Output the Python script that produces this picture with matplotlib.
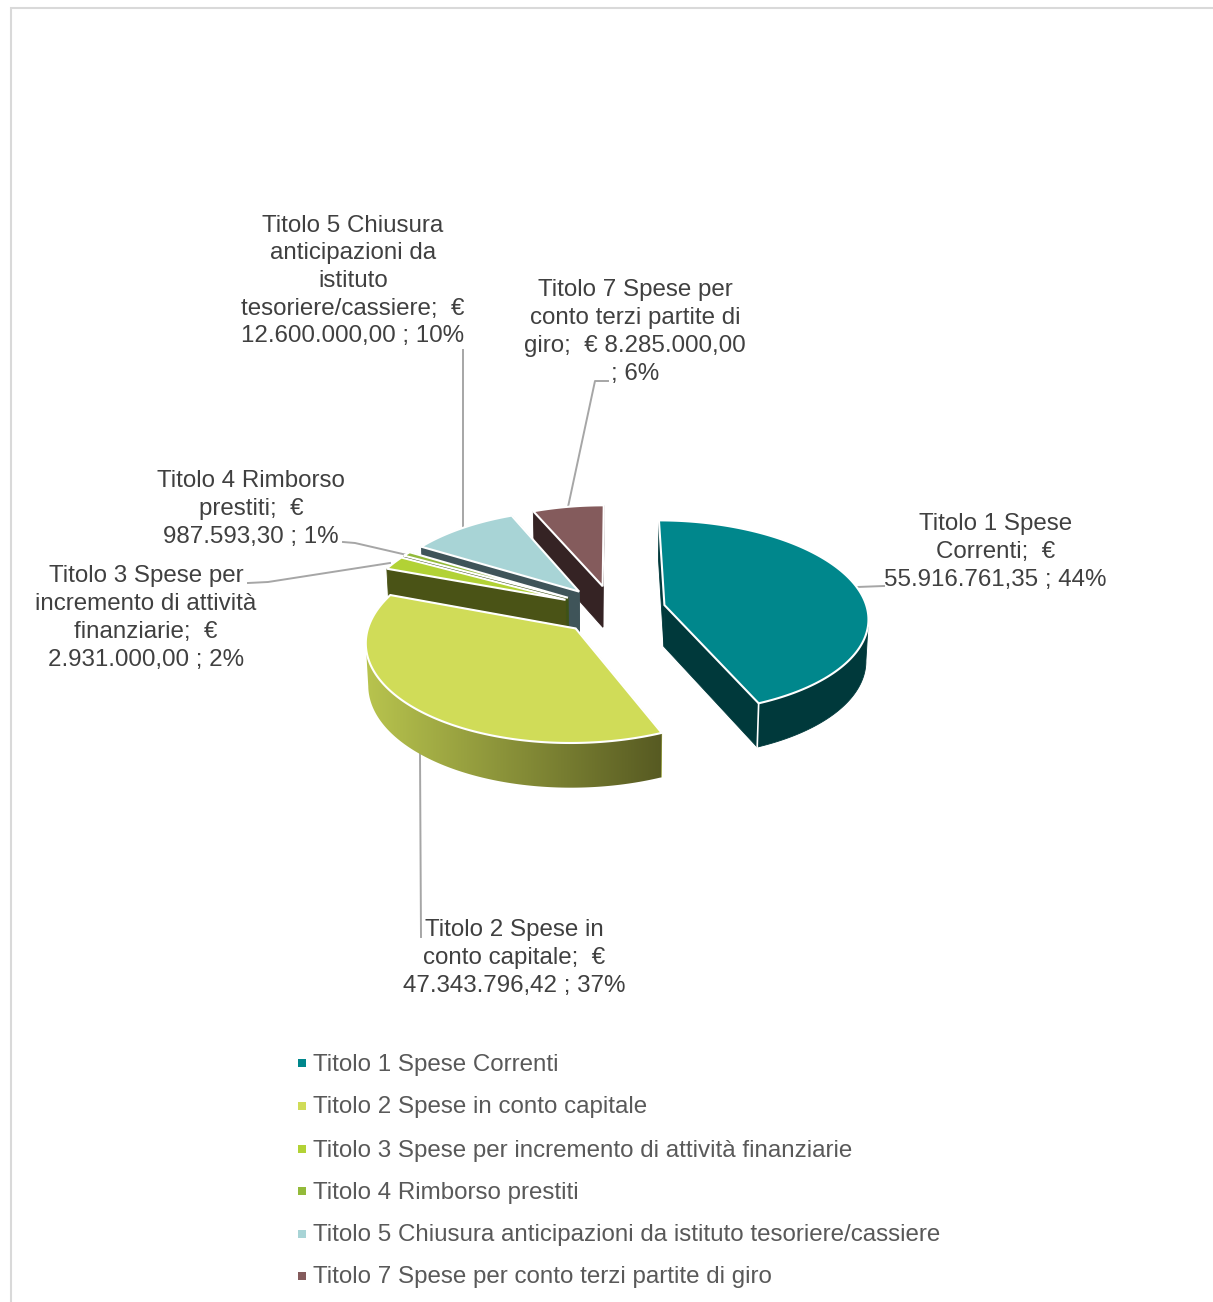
import numpy as np
import matplotlib
matplotlib.use("Agg")
import matplotlib.pyplot as plt
from matplotlib.colors import LinearSegmentedColormap
from matplotlib.patches import Polygon

plt.rcParams['font.family'] = ['Liberation Sans', 'DejaVu Sans']

categories = ["Titolo 1 Spese Correnti", "Titolo 2 Spese in conto capitale",
              "Titolo 3 Spese per incremento di attività finanziarie",
              "Titolo 4 Rimborso prestiti",
              "Titolo 5 Chiusura anticipazioni da istituto tesoriere/cassiere",
              "Titolo 7 Spese per conto terzi partite di giro"]
values = [55916761.35, 47343796.42, 2931000.00, 987593.30, 12600000.00, 8285000.00]
top_colors = ["#00878c", "#d0dc58", "#b2d235", "#93ba3a", "#a8d4d6", "#845b5c"]
side_colors = ["#00393b", "#b8c44e", "#4a5316", "#3e5216", "#3f5459", "#352324"]
legend_colors = ["#00878c", "#d0dc58", "#b2d235", "#93ba3a", "#a8d4d6", "#845b5c"]

label_texts = ["Titolo 1 Spese\nCorrenti;  €\n55.916.761,35 ; 44%",
               "Titolo 2 Spese in\nconto capitale;  €\n47.343.796,42 ; 37%",
               "Titolo 3 Spese per\nincremento di attività\nfinanziarie;  €\n2.931.000,00 ; 2%",
               "Titolo 4 Rimborso\nprestiti;  €\n987.593,30 ; 1%",
               "Titolo 5 Chiusura\nanticipazioni da\nistituto\ntesoriere/cassiere;  €\n12.600.000,00 ; 10%",
               "Titolo 7 Spese per\nconto terzi partite di\ngiro;  € 8.285.000,00\n; 6%"]
label_pos = [(995.5, 552), (514, 958), (146, 618), (251, 509), (353, 281), (635, 332)]
leaders = [[(857, 587), (884, 586)],
           [(420, 754), (421, 937)],
           [(248, 583), (268, 582), (390, 563)],
           [(343, 542), (355, 543), (407, 555)],
           [(463, 350), (463, 528)],
           [(608, 381), (595, 381), (568, 507)]]

# pie projection
cx, cy = 613, 610
rx, ry = 203, 96
persp = 0.12
explode = 0.26
depth = 41.5


def project(x, y, down=False):
    x = np.asarray(x, dtype=float)
    y = np.asarray(y, dtype=float)
    f = 1 + persp * y
    sx = cx + rx * x / f
    sy = cy - ry * y / f
    if down:
        sx = cx + (sx - cx) * 0.99
        sy = sy + depth / (1 + 0.5 * persp * y)
    return sx, sy


fig = plt.figure(figsize=(12.13, 13.02), dpi=100)
ax = fig.add_axes([0, 0, 1, 1])

# frame of the pasted chart
ax.plot([11, 11, 1213], [1302, 8, 8], color="#d9d9d9", lw=1.5, solid_joinstyle="miter")

fractions = np.array(values) / sum(values)
edges = np.concatenate([[0], np.cumsum(fractions)]) * 2 * np.pi
wall_cmap = LinearSegmentedColormap.from_list("wall", ["#b8c44e", "#575a22"])


def side_face(xa, ya, xb, yb, color, z):
    sxa, sya = project(xa, ya)
    sxb, syb = project(xb, yb)
    dxa, dya = project(xa, ya, True)
    dxb, dyb = project(xb, yb, True)
    ax.fill([sxa, sxb, dxb, dxa], [sya, syb, dyb, dya], facecolor=color,
            edgecolor=color, lw=0.6, zorder=z)


# back slices first, first slice is the nearest
order = [5, 4, 3, 2, 1, 0]
for n, i in enumerate(order):
    z = 2 + n
    t0, t1 = edges[i], edges[i + 1]
    mid = (t0 + t1) / 2
    ox, oy = explode * np.sin(mid), explode * np.cos(mid)
    t = np.linspace(t0, t1, max(int((t1 - t0) * 60), 4))
    ax_pts = ox + np.sin(t)
    ay_pts = oy + np.cos(t)

    # cut faces
    side_face(ox, oy, ax_pts[0], ay_pts[0], side_colors[i], z)
    side_face(ox, oy, ax_pts[-1], ay_pts[-1], side_colors[i], z)

    # outer wall, from the widest point of the rim to the end of the arc
    if i in (0, 1):
        rim_x = project(ax_pts, ay_pts)[0]
        if i == 0:
            keep = np.arange(np.argmax(rim_x), len(t))
        else:
            keep = np.arange(0, np.argmin(rim_x) + 1)
        wx, wy = project(ax_pts[keep], ay_pts[keep])
        dx, dy = project(ax_pts[keep], ay_pts[keep], True)
        wall = np.c_[np.r_[wx, dx[::-1]], np.r_[wy, dy[::-1]]]
        if i == 1:
            # second slice has a shaded wall
            patch = Polygon(wall, closed=True, transform=ax.transData, facecolor="none",
                            edgecolor="none")
            ax.add_patch(patch)
            im = ax.imshow(np.linspace(0, 1, 256).reshape(1, -1), cmap=wall_cmap, aspect="auto",
                           extent=[wall[:, 0].min(), wall[:, 0].max(),
                                   wall[:, 1].max(), wall[:, 1].min()],
                           zorder=z, interpolation="bilinear")
            im.set_clip_path(patch)
        else:
            ax.fill(wall[:, 0], wall[:, 1], facecolor=side_colors[i],
                    edgecolor=side_colors[i], lw=0.6, zorder=z)

    # white corner on the cut
    if i == 0:
        xs, ys = project(ax_pts[-1], ay_pts[-1])
        xd, yd = project(ax_pts[-1], ay_pts[-1], True)
        ax.plot([xs, xd], [ys, yd], color="white", lw=1.2, zorder=z + 0.2)

    px, py = project(np.r_[ox, ax_pts], np.r_[oy, ay_pts])
    ax.fill(px, py, facecolor=top_colors[i], edgecolor="white", lw=1.5,
            joinstyle="miter", zorder=z + 0.5)

for pts in leaders:
    ax.plot([p[0] for p in pts], [p[1] for p in pts], color="#a6a6a6", lw=1.4, zorder=1)

for txt, pos in zip(label_texts, label_pos):
    ax.text(pos[0], pos[1], txt, ha="center", va="center", fontsize=17.4,
            color="#404040", linespacing=1.335, zorder=20)

# legend
legend_y = [1063, 1106, 1149, 1191, 1234, 1276]
for name, col, y in zip(categories, legend_colors, legend_y):
    ax.scatter([302], [y], marker="s", s=26, color=col, linewidths=0, zorder=20)
    ax.text(313, y + 1.5, name, ha="left", va="center", fontsize=17.4, color="#595959", zorder=20)

ax.set_xlim(0, 1213)
ax.set_ylim(1302, 0)
ax.axis("off")

fig.savefig("out.png", dpi=100)
